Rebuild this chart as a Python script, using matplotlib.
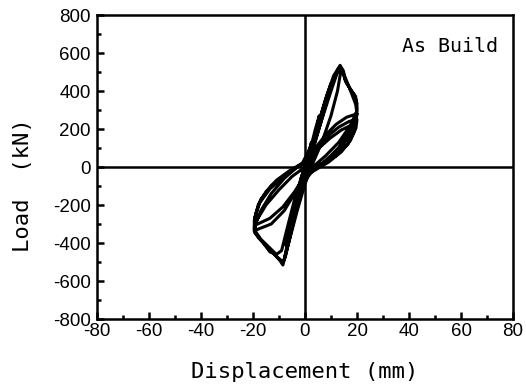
import matplotlib
matplotlib.use("Agg")
import matplotlib.pyplot as plt
from matplotlib.ticker import MultipleLocator

plt.rcParams["axes.unicode_minus"] = False

# hysteresis path (displacement in mm, load in kN)
displacement = [0, 1.5, 2.5, 1.5, 0, -1.5, -2.5, -1.5, 0,
                2, 4, 5.5, 4.5, 2, 0, -2, -4, -5, -4, -2, 0,
                3, 6, 8.5, 10, 9, 6, 3, 0, -3, -6, -7.5, -6.5, -4, -1, 1,
                4, 8, 11, 13.5, 14.8, 15.5, 18, 19.5, 20, 19.5, 17, 13, 8, 3, 0,
                -3, -6, -8.5, -9.5, -12, -13.5, -16, -19.2, -19, -17, -13, -8, -3, 2,
                6, 10, 12.5, 14, 15.5, 17, 19.5, 20, 18.5, 15, 10, 5, 0,
                -4, -7, -9, -11, -14, -17, -19.5, -19.5, -18, -15, -11, -6, -1,
                3, 6.5, 9.5, 12, 13, 14.5, 16, 19, 20, 19.8, 17.5, 13, 8, 3, 0,
                -2, -4, -6, -7.5, -8.5, -11, -14, -18, -19.5, -19, -15, -10, -5, 0,
                4, 8, 11, 13, 13.6, 12.5, 10, 6.5, 3, 0, -3, -5.5, -7.5, -8,
                -7, -4.5, -1.5, 1,
                4, 8, 12, 16, 20, 19.5, 17, 13, 8, 3, 0,
                -4, -8, -13, -19.5, -19.3, -17.5, -13.5, -8.5, -3.5, 1,
                5, 9, 13, 17, 20, 19.6, 17.5, 14, 9, 4, 0,
                -4, -8.5, -13.5, -19, -18.8, -17, -13, -8, -3, 1,
                5, 9.5, 14, 19, 18.8, 16.5, 12, 7, 2, 0]
load = [0, 80, 130, 70, 0, -80, -130, -60, 0,
        90, 200, 270, 200, 70, -20, -110, -220, -280, -200, -80, 10,
        130, 270, 380, 440, 380, 230, 90, -30, -170, -330, -410, -340, -200, -50, 30,
        170, 360, 480, 535, 505, 455, 396, 370, 300, 270, 190, 100, 30, -20, -70,
        -200, -380, -516, -495, -455, -447, -400, -347, -300, -230, -140, -60, 0, 50,
        230, 400, 500, 515, 470, 420, 330, 280, 210, 130, 60, 0, -50,
        -170, -330, -440, -460, -420, -380, -330, -280, -200, -130, -70, -20, 20,
        130, 280, 400, 490, 520, 495, 440, 380, 335, 290, 220, 130, 60, 0, -40,
        -130, -250, -380, -470, -500, -470, -430, -370, -340, -290, -200, -120, -50, 0,
        170, 340, 460, 520, 490, 400, 270, 130, 20, -90, -230, -360, -460, -490,
        -420, -290, -140, -20,
        100, 170, 225, 262, 280, 230, 160, 90, 30, -10, -40,
        -140, -230, -300, -335, -265, -190, -115, -55, -5, 30,
        105, 165, 210, 240, 250, 205, 140, 80, 25, -15, -45,
        -130, -210, -270, -305, -240, -170, -100, -45, 0, 30,
        95, 150, 195, 228, 185, 120, 60, 15, -20, -30]

x_ticks = [-80, -60, -40, -20, 0, 20, 40, 60, 80]
y_ticks = [-800, -600, -400, -200, 0, 200, 400, 600, 800]

fig = plt.figure(figsize=(5.26, 3.87), dpi=100)
ax = fig.add_axes([97/526, 1 - 319/387, (513-97)/526, (319-15)/387])

ax.axhline(0, color="black", lw=1.8, zorder=1)
ax.axvline(0, color="black", lw=1.8, zorder=1)
ax.plot(displacement, load, color="black", lw=2.2, solid_joinstyle="round", zorder=2)

ax.set_xlim(-80, 80)
ax.set_ylim(-800, 800)
ax.set_xticks(x_ticks)
ax.set_yticks(y_ticks)
ax.set_xticklabels([str(v) for v in x_ticks])
ax.set_yticklabels([str(v) for v in y_ticks])
ax.xaxis.set_minor_locator(MultipleLocator(10))
ax.yaxis.set_minor_locator(MultipleLocator(100))
ax.tick_params(which="both", direction="in", top=False, right=False, width=1.8)
ax.tick_params(which="major", length=5)
ax.tick_params(which="minor", length=3)
ax.tick_params(axis="x", which="major", pad=3.2)
ax.tick_params(axis="y", which="major", pad=4.5)
for lab in ax.get_xticklabels() + ax.get_yticklabels():
    lab.set_family("Liberation Sans")
    lab.set_fontsize(13.5)
for sp in ax.spines.values():
    sp.set_linewidth(1.8)

mono = "DejaVu Sans Mono"
ax.set_xlabel("Displacement (mm)", family=mono, fontsize=16)
ax.set_ylabel("Load  (kN)", family=mono, fontsize=16)
ax.xaxis.set_label_coords(0.5, (319 - 372) / 304)
ax.xaxis.label.set_va("center")
ax.yaxis.set_label_coords((23 - 97) / 416, (319 - 185) / 304)
ax.yaxis.label.set_va("center")
ax.yaxis.label.set_ha("center")
ax.text((498 - 97) / 416, (319 - 47) / 304, "As Build", transform=ax.transAxes,
        family=mono, fontsize=14.4, ha="right", va="center")

fig.savefig("out.png", dpi=100)
